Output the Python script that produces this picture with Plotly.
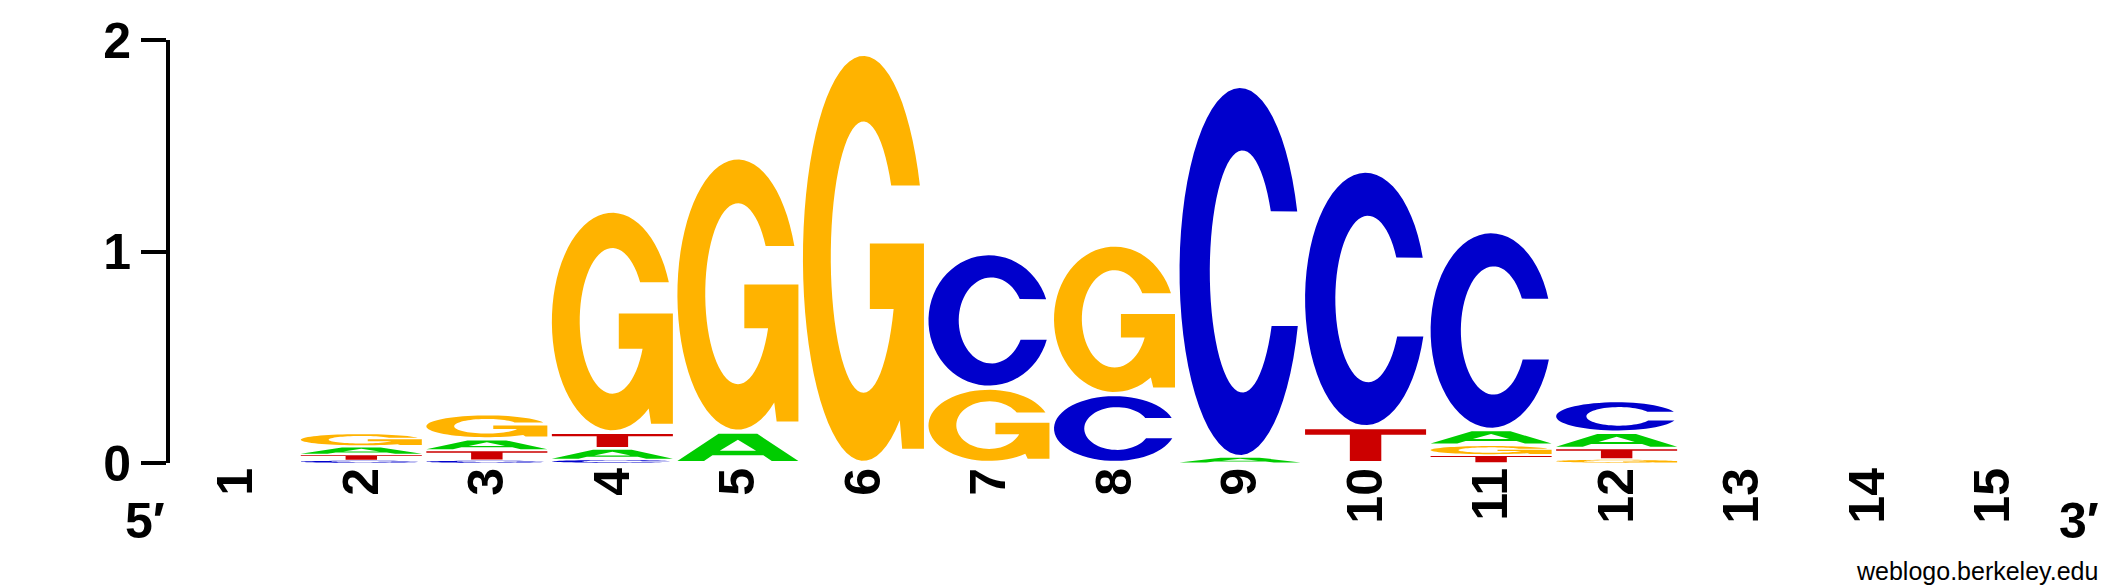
import numpy as np
import plotly.graph_objects as go

# positions along the motif and their tick labels
positions = list(range(1, 16))
tick_labels = [str(p) for p in positions]

# letter heights (bits) at each position
height_A = [0, 0.037, 0.052, 0.053, 0.148, 0, 0, 0, 0.028, 0, 0.072, 0.074, 0, 0, 0]
height_C = [0, 0.012, 0.012, 0.015, 0, 0, 0.636, 0.326, 1.755, 1.213, 0.939, 0.153, 0, 0, 0]
height_G = [0, 0.066, 0.123, 1.048, 1.297, 1.935, 0.356, 0.707, 0, 0, 0.048, 0.017, 0, 0, 0]
height_T = [0, 0.028, 0.048, 0.077, 0, 0, 0, 0, 0, 0.169, 0.037, 0.053, 0, 0, 0]

colors = {"A": "#00CC00", "C": "#0000CC", "G": "#FFB300", "T": "#CC0000"}
FONT = "Liberation Sans, Arial, sans-serif"


def arc(cx, cy, rx, ry, a0, a1, n=60):
    t = np.radians(np.linspace(a0, a1, n))
    return list(zip(cx + rx * np.cos(t), cy + ry * np.sin(t)))


# glyph outlines in a unit box (list of contours)
def glyph(letter):
    if letter == "A":
        outer = [(0, 0), (0.34, 1), (0.66, 1), (1, 0), (0.78, 0), (0.71, 0.21),
                 (0.29, 0.21), (0.22, 0)]
        hole = [(0.35, 0.37), (0.65, 0.37), (0.5, 0.78)]
        return [outer, hole]
    if letter == "T":
        return [[(0, 1), (1, 1), (1, 0.83), (0.63, 0.83), (0.63, 0), (0.37, 0),
                 (0.37, 0.83), (0, 0.83)]]
    if letter == "C":
        pts = arc(0.5, 0.5, 0.5, 0.5, 19.1, 342.7)
        pts += arc(0.52, 0.5, 0.27, 0.33, 333.2, 29.8)
        return [pts]
    # G
    pts = arc(0.5, 0.5, 0.5, 0.5, 21.1, 306.9)
    pts += [(0.82, 0.03), (1.0, 0.03), (1.0, 0.537), (0.553, 0.537), (0.553, 0.375)]
    pts += arc(0.5, 0.503, 0.27, 0.335, -22.5, -328.1)
    return [pts]


def letter_path(letter, xc, y0, y1, hw=0.482):
    d = ""
    for contour in glyph(letter):
        cmds = ["%.4f,%.5f" % (xc - hw + u * 2 * hw, y0 + v * (y1 - y0)) for u, v in contour]
        d += "M" + "L".join(cmds) + "Z"
    return d


fig = go.Figure()
# invisible trace so the axes exist
fig.add_trace(go.Scatter(x=positions, y=[0] * len(positions), mode="markers",
                         marker=dict(opacity=0), hoverinfo="skip", showlegend=False))

shapes = []
for i, p in enumerate(positions):
    stack = [("A", height_A[i]), ("C", height_C[i]), ("G", height_G[i]), ("T", height_T[i])]
    stack = sorted([s for s in stack if s[1] > 0], key=lambda s: s[1])
    base = 0.0
    for letter, h in stack:
        pad = min(0.01, 0.1 * h)
        shapes.append(dict(type="path", xref="x", yref="y", layer="above",
                           path=letter_path(letter, p, base + pad, base + h - pad),
                           fillcolor=colors[letter], line=dict(width=0), fillrule="evenodd"))
        base += h

bold = dict(family=FONT, size=50, color="black", weight="bold")

# page body adds an 8px margin, so the figure is 8px smaller than the window
fig.update_layout(
    width=2117, height=580,
    margin=dict(l=162, r=69, t=31.5, b=125),
    plot_bgcolor="white", paper_bgcolor="white",
    shapes=shapes,
    xaxis=dict(range=[0.476, 15.5], showgrid=False, zeroline=False, showline=False,
               tickmode="array", tickvals=positions, ticktext=tick_labels, tickangle=-90,
               ticks="", ticklabelstandoff=-6, tickfont=bold, automargin=False),
    yaxis=dict(range=[0, 2], showgrid=False, zeroline=False, showline=True,
               linecolor="black", linewidth=4, ticks="outside", ticklen=25, tickwidth=4,
               tickcolor="black", tickvals=[0, 1, 2], tickfont=bold, automargin=False),
    annotations=[
        dict(text="5\u2032", xref="paper", yref="paper", x=-0.0133, y=-0.137,
             xanchor="center", yanchor="middle", showarrow=False, font=bold),
        dict(text="3\u2032", xref="paper", yref="paper", x=1.0122, y=-0.137,
             xanchor="center", yanchor="middle", showarrow=False, font=bold),
        dict(text="weblogo.berkeley.edu", xref="paper", yref="paper", x=1.0233, y=-0.255,
             xanchor="right", yanchor="middle", showarrow=False,
             font=dict(family=FONT, size=25, color="black")),
    ],
)

fig.write_html("out.html", config={"displayModeBar": False})
